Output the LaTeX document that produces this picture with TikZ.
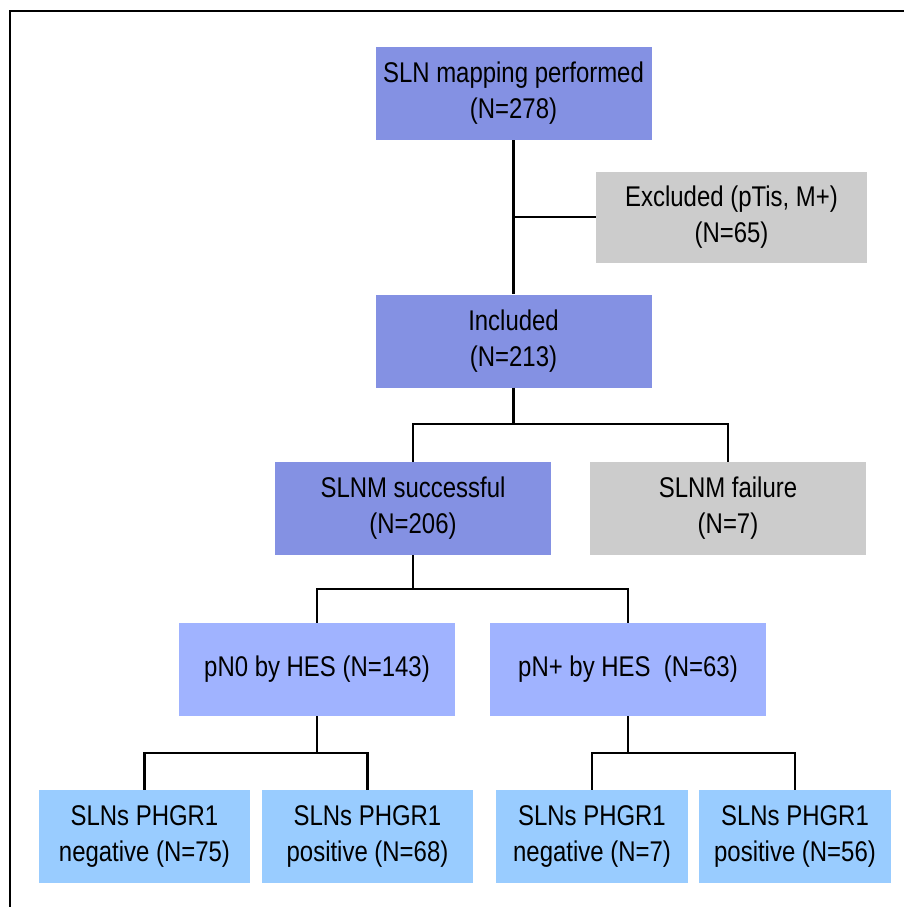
\documentclass[tikz,border=0pt]{standalone}
\usepackage{fontspec}
\setmainfont{Liberation Sans}[FakeStretch=0.84]
\definecolor{mapblue}{HTML}{8491E3}
\definecolor{hesblue}{HTML}{A0B3FF}
\definecolor{slnblue}{HTML}{99CCFF}
\definecolor{offgrey}{HTML}{CCCCCC}
\begin{document}
\begin{tikzpicture}[x=1pt,y=-1pt,
    box/.style={fill=mapblue, minimum width=276pt, minimum height=93pt, inner sep=0pt,
      align=center, font=\fontsize{28.5}{36}\selectfont},
    greybox/.style={box, fill=offgrey},
    hesbox/.style={box, fill=hesblue},
    slnbox/.style={box, fill=slnblue, minimum width=211pt},
    link/.style={line width=2.2pt}]
    \useasboundingbox (0,0) rectangle (904,907);
    % frame
    \draw[line width=2.6pt] (10,907) -- (10,11) -- (904,11);
    % boxes
    \node[box] (map) at (513.5,93.5) {SLN mapping performed\\(N=278)};
    \node[greybox, minimum width=271pt, minimum height=91pt] (excl) at (731.5,217) {Excluded (pTis, M+)\\(N=65)};
    \node[box] (incl) at (513.5,341) {Included\\(N=213)};
    \node[box] (succ) at (413,508.5) {SLNM successful\\(N=206)};
    \node[greybox] (fail) at (728,508.5) {SLNM failure\\(N=7)};
    \node[hesbox] (pn0) at (317,669.5) {pN0 by HES (N=143)};
    \node[hesbox] (pnp) at (628,669.5) {pN+ by HES\ \ (N=63)};
    \node[slnbox] (neg1) at (144.5,836.5) {SLNs PHGR1\\negative (N=75)};
    \node[slnbox] (pos1) at (367.5,836.5) {SLNs PHGR1\\positive (N=68)};
    \node[slnbox, minimum width=192pt] (neg2) at (592,836.5) {SLNs PHGR1\\negative (N=7)};
    \node[slnbox, minimum width=192pt] (pos2) at (795,836.5) {SLNs PHGR1\\positive (N=56)};
    % junctions
    \coordinate (j1) at (513.5,424);
    \coordinate (j2) at (413,589);
    \coordinate (j3) at (317,753);
    \coordinate (j4) at (628,753);
    % connectors
    \draw[link] (map.south) -- (incl.north);
    \draw[link] (map.south |- excl.west) -- (excl.west);
    \draw[link] (incl.south) -- (j1);
    \draw[link] (succ.north) |- (j1) -| (fail.north);
    \draw[link] (succ.south) -- (j2);
    \draw[link] (pn0.north) |- (j2) -| (pnp.north);
    \draw[link] (pn0.south) -- (j3);
    \draw[link] (neg1.north) |- (j3) -| (pos1.north);
    \draw[link] (pnp.south) -- (j4);
    \draw[link] (neg2.north) |- (j4) -| (pos2.north);
\end{tikzpicture}
\end{document}
